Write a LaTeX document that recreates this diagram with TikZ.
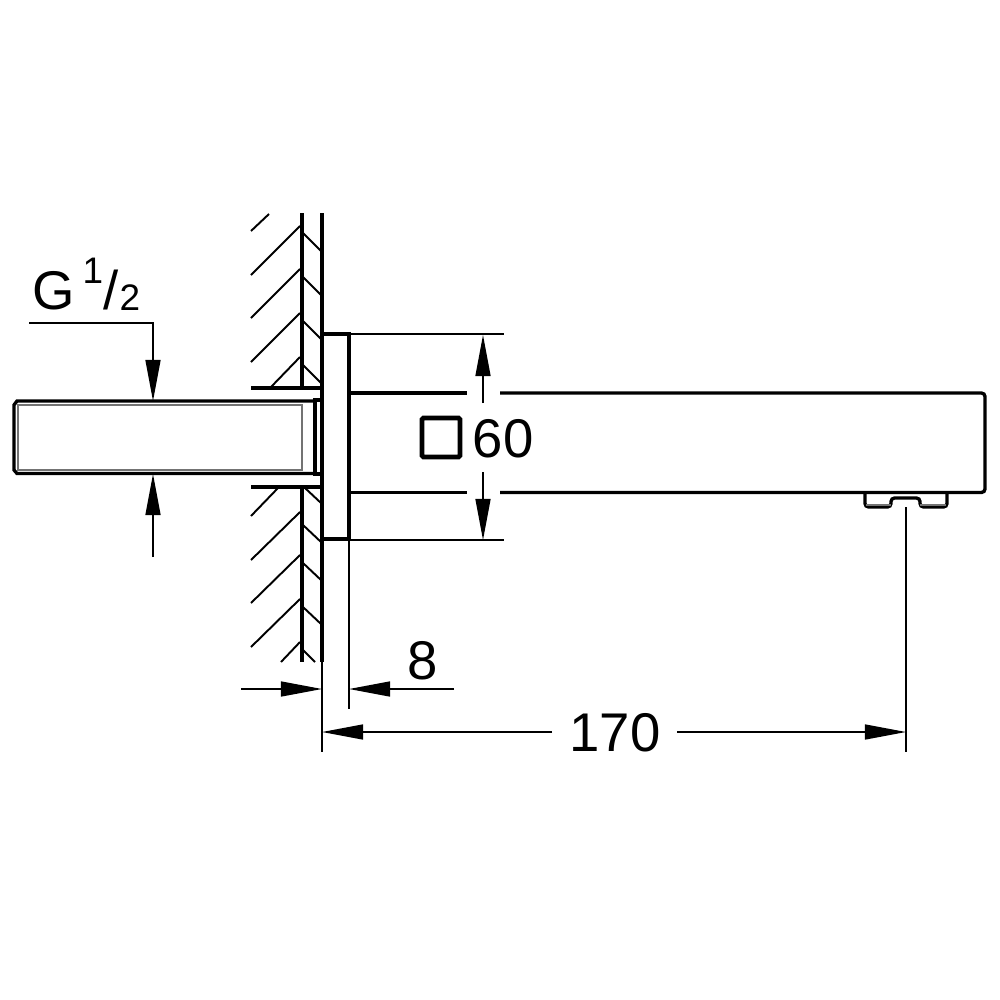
\documentclass[tikz,border=0pt]{standalone}
\usepackage{fontspec}
\setmainfont{Liberation Sans}
\usetikzlibrary{arrows.meta}
\tikzset{
	heavy/.style={line width=0.95pt},
	thin line/.style={line width=0.42pt},
	hatch/.style={line width=0.55pt},
	ghost/.style={line width=0.5pt,black!55},
	dim/.style={line width=0.42pt,-{Triangle[length=4.1mm,width=1.5mm]}},
	dimtext/.style={inner sep=0pt,font=\fontsize{15.5}{15.5}\selectfont}
}

\begin{document}
\begin{tikzpicture}[x=0.01cm,y=-0.01cm]
	\useasboundingbox (0,0) rectangle (1000,1000);
	% wall
	\draw[heavy] (302,213) -- (302,388);
	\draw[heavy] (302,487) -- (302,662);
	\draw[heavy] (322,213) -- (322,662);
	\draw[thin line] (322,662) -- (322,752);
	\draw[heavy] (251,388) -- (322,388);
	\draw[heavy] (251,487) -- (322,487);
	\foreach \y in {275,318,362} {\draw[hatch] (251,\y) -- (300,\y-49);}
	\foreach \y in {560,603,647} {\draw[hatch] (251,\y) -- (300,\y-48);}
	\foreach \y in {233,277,321,365} {\draw[hatch] (303,\y) -- (321,\y+18);}
	\foreach \y in {525,563,607} {\draw[hatch] (303,\y) -- (321,\y+17);}
	\draw[hatch] (251,231) -- (269,214);
	\draw[hatch] (271,387) -- (300,357);
	\draw[hatch] (251,516) -- (278,488);
	\draw[hatch] (281,662) -- (300,642);
	\draw[hatch] (305,488) -- (321,503);
	\draw[hatch] (303,650) -- (315,662);
	% pipe
	\draw[heavy] (313,401) -- (17,401) -- (14,405) -- (14,470) -- (17,473.5) -- (313,473.5);
	\draw[heavy] (322,400) -- (315,400) -- (315,474) -- (322,474);
	\draw[ghost] (18,405) -- (302,405) -- (302,470) -- (18,470) -- cycle;
	% flange and spout
	\draw[heavy] (322,334) -- (349,334) -- (349,539) -- (322,539);
	\draw[thin line] (349,539) -- (349,709);
	\draw[thin line] (349,334) -- (504,334);
	\draw[thin line] (349,540) -- (504,540);
	\draw[heavy] (349,393) -- (467,393);
	\draw[heavy] (349,492.5) -- (467,492.5);
	\draw[heavy,rounded corners=1pt] (500,393) -- (985,393) -- (985,492.5) -- (500,492.5);
	\draw[heavy,rounded corners=1pt] (865,493) -- (865,507) -- (891,507) -- (891,498) -- (920,498) -- (920,507) -- (947,507) -- (947,493);
	\draw[ghost] (866,505) -- (891,505);
	\draw[ghost] (920,505) -- (946,505);
	\draw[thin line] (906,507) -- (906,752);
	% G 1/2
	\node[dimtext,anchor=base west] (gsize) at (32,309) {G};
	\node[inner sep=0pt,anchor=base west,font=\fontsize{10.5}{10.5}\selectfont] (gnum) at (82,283) {1};
	\node[inner sep=0pt,anchor=base west,font=\fontsize{15.5}{15.5}\selectfont] (gbar) at (103,309) {/};
	\node[inner sep=0pt,anchor=base west,font=\fontsize{10.5}{10.5}\selectfont] (gden) at (119,310) {2};
	\draw[dim] (29,323) -- (153,323) -- (153,401);
	\draw[dim] (153,557) -- (153,474);
	% 60
	\draw[line width=1.35pt,rounded corners=0.4pt] (422,418) rectangle (460,457);
	\node[dimtext,anchor=base west] (sixty) at (472,457) {60};
	\draw[dim] (483,403) -- (483,335);
	\draw[dim] (483,472) -- (483,540);
	% 8
	\node[dimtext,anchor=base] (eight) at (423,679) {8};
	\draw[dim] (241,689) -- (322,689);
	\draw[dim] (454,689) -- (349,689);
	% 170
	\node[dimtext,anchor=base] (length) at (615,751) {170};
	\draw[dim] (552,732) -- (322,732);
	\draw[dim] (677,732) -- (906,732);
\end{tikzpicture}
\end{document}
